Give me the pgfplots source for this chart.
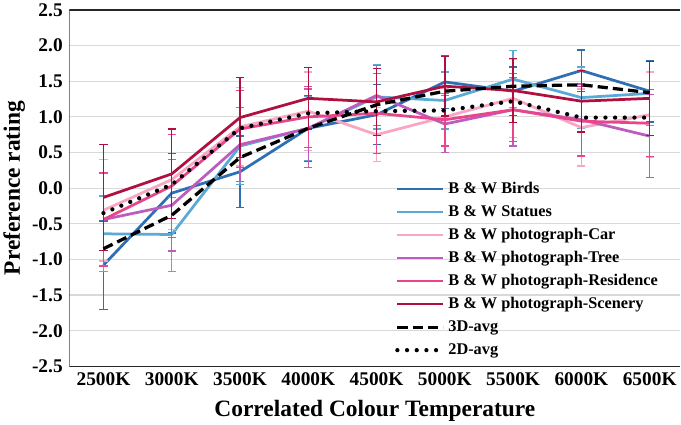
\documentclass[border=0pt]{standalone}
\usepackage{pgfplots}
\usepackage{pgfplotstable}
\pgfplotsset{compat=1.18}
\usepackage{fontspec}
\setmainfont{Liberation Serif}

\definecolor{cBirds}{HTML}{2E6FB4}
\definecolor{cStatues}{HTML}{5AAAD6}
\definecolor{cCar}{HTML}{F7A6C4}
\definecolor{cTree}{HTML}{BD5BBE}
\definecolor{cResidence}{HTML}{E8458A}
\definecolor{cScenery}{HTML}{B0103F}
\definecolor{cGrid}{HTML}{D9D9D9}

% x = CCT index (0 = 2500K ... 8 = 6500K), y = mean rating, e = error
\pgfplotstableread{
x y e
0 -1.08 0.62
1 -0.07 0.56
2 0.23 0.50
3 0.84 0.46
4 1.03 0.42
5 1.49 0.37
6 1.36 0.34
7 1.65 0.29
8 1.36 0.43
}\birds
\pgfplotstableread{
x y e
0 -0.64 0.53
1 -0.65 0.52
2 0.59 0.54
3 0.84 0.45
4 1.28 0.45
5 1.23 0.40
6 1.53 0.40
7 1.27 0.43
8 1.33 0.45
}\statues
\pgfplotstableread{
x y e
0 -0.31 0.71
1 0.12 0.70
2 0.86 0.55
3 1.08 0.55
4 0.75 0.38
5 1.00 0.40
6 1.26 0.55
7 0.85 0.54
8 1.03 0.60
}\car
\pgfplotstableread{
x y e
0 -0.44 0.65
1 -0.24 0.64
2 0.61 0.52
3 0.84 0.55
4 1.30 0.42
5 0.90 0.40
6 1.10 0.51
7 0.96 0.50
8 0.73 0.58
}\tree
\pgfplotstableread{
x y e
0 -0.44 0.66
1 0.03 0.72
2 0.83 0.54
3 1.00 0.43
4 1.05 0.56
5 0.96 0.37
6 1.10 0.45
7 0.94 0.49
8 0.91 0.47
}\residence
\pgfplotstableread{
x y e
0 -0.13 0.74
1 0.20 0.63
2 0.99 0.56
3 1.26 0.43
4 1.21 0.47
5 1.43 0.42
6 1.37 0.45
7 1.22 0.43
8 1.26 0.52
}\scenery
\pgfplotstableread{
x y
0 -0.85
1 -0.38
2 0.43
3 0.84
4 1.17
5 1.36
6 1.43
7 1.45
8 1.34
}\threeD
\pgfplotstableread{
x y
0 -0.35
1 0.05
2 0.84
3 1.05
4 1.08
5 1.09
6 1.22
7 0.99
8 0.99
}\twoD

\begin{document}
\begin{tikzpicture}
\begin{axis}[
  scale only axis,
  width=600pt, height=350pt,
  xmin=-0.5, xmax=8.45,
  ymin=-2.5, ymax=2.5,
  xtick={0,...,8},
  xticklabels={2500K,3000K,3500K,4000K,4500K,5000K,5500K,6000K,6500K},
  ytick={-2.5,-2,...,2.5},
  /pgf/number format/fixed,
  /pgf/number format/fixed zerofill,
  /pgf/number format/precision=1,
  /pgf/number format/assume math mode=true,
  ticklabel style={font=\fontsize{19}{19}\selectfont\bfseries},
  yticklabel style={xshift=-3pt},
  xticklabel style={yshift=-3pt},
  major tick length=0pt,
  ymajorgrids,
  grid style={cGrid, line width=1.2pt},
  axis line style={draw=none},
  xlabel={Correlated Colour Temperature},
  ylabel={Preference rating},
  label style={font=\fontsize{23}{23}\selectfont\bfseries},
  xlabel style={yshift=-7pt},
  ylabel style={yshift=0pt},
  legend cell align=left,
  legend style={
    at={(rel axis cs:0.533,0.521)}, anchor=north west,
    draw=none, fill=none, inner sep=0pt,
    font=\fontsize{16}{16}\selectfont\bfseries,
    nodes={inner xsep=3pt, inner ysep=0pt, text height=12pt, text depth=4pt},
    row sep=6.6pt,
  },
  legend image code/.code={\draw[#1] (0pt,0pt) -- (45pt,0pt);},
  every axis plot/.append style={line width=2.7pt, line join=round},
  error bars/y dir=both,
  error bars/y explicit,
  error bars/error bar style={line width=1.3pt, solid},
  error bars/error mark options={rotate=90, mark size=4pt, line width=1.3pt, solid},
]
\addplot[cBirds] table[x=x,y=y,y error=e]{\birds};
\addlegendentry{B \& W Birds}
\addplot[cStatues] table[x=x,y=y,y error=e]{\statues};
\addlegendentry{B \& W Statues}
\addplot[cCar] table[x=x,y=y,y error=e]{\car};
\addlegendentry{B \& W photograph-Car}
\addplot[cTree] table[x=x,y=y,y error=e]{\tree};
\addlegendentry{B \& W photograph-Tree}
\addplot[cResidence] table[x=x,y=y,y error=e]{\residence};
\addlegendentry{B \& W photograph-Residence}
\addplot[cScenery] table[x=x,y=y,y error=e]{\scenery};
\addlegendentry{B \& W photograph-Scenery}
\addplot[black, line width=3.2pt, dash pattern=on 10pt off 5pt, error bars/y dir=none] table[x=x,y=y]{\threeD};
\addlegendentry{3D-avg}
\addplot[black, line width=4.2pt, line cap=round, dash pattern=on 0pt off 9.5pt, error bars/y dir=none] table[x=x,y=y]{\twoD};
\addlegendentry{2D-avg}

% frame: left, top and bottom edges
\draw[black!75, line width=1pt] (rel axis cs:0,0) -- (rel axis cs:0,1);
\draw[black!85, line width=1.2pt] (rel axis cs:0,1) -- (rel axis cs:1,1);
\draw[black!85, line width=1.2pt] (rel axis cs:0,0) -- (rel axis cs:1,0);
\end{axis}
\end{tikzpicture}
\end{document}
